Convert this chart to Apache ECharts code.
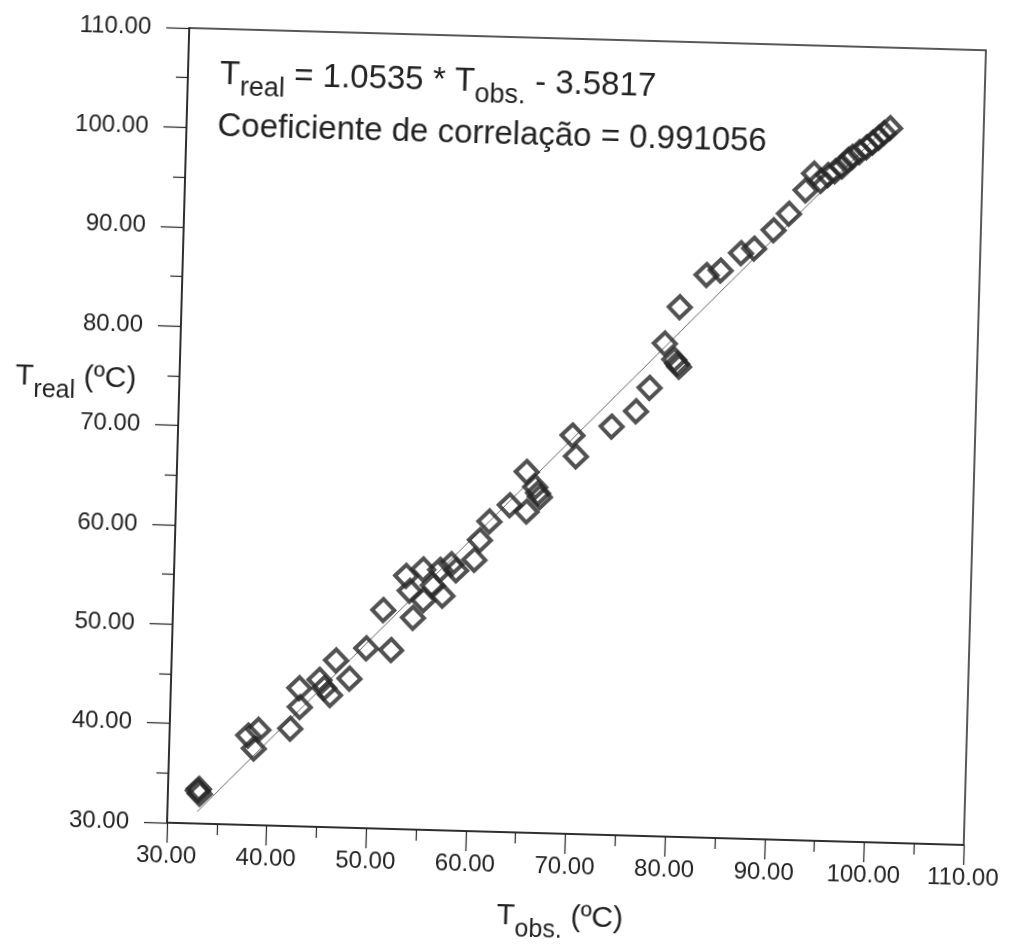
<!DOCTYPE html>
<html lang="pt">
<head>
<meta charset="utf-8">
<title>Treal x Tobs</title>
<script src="https://cdn.jsdelivr.net/npm/echarts@6.0.0/dist/echarts.min.js"></script>
<style>
  html, body {
    margin: 0;
    padding: 0;
    background: #ffffff;
    overflow: hidden;
  }
  /* the scanned figure sits slightly tilted on the page */
  .scatter-chart {
    position: absolute;
    left: 0;
    top: 0;
    width: 1060px;
    height: 990px;
    transform: rotate(1.6deg);
    transform-origin: 577px 436px;
  }
</style>
</head>
<body>
<div id="chart" class="scatter-chart"></div>
<script>
const tObs = [
  33.0, 33.2, 33.1, 37.9, 38.9, 38.5, 42.1, 43.0, 42.9, 44.9,
  45.4, 46.0, 47.9, 46.5, 49.5, 52.0, 51.1, 54.1, 53.3, 55.0,
  53.7, 56.0, 57.0, 55.1, 56.7, 57.8, 58.3, 60.1, 60.6, 61.5,
  63.5, 65.2, 65.1, 66.0, 66.3, 66.5, 69.6, 70.0, 73.5, 75.9,
  77.2, 78.6, 79.6, 79.9, 80.1, 80.0, 82.6, 84.0, 86.0, 87.3,
  89.2, 90.7, 92.3, 93.1, 93.8, 94.5, 95.2, 95.9, 96.5, 96.9,
  97.6, 98.3, 98.9, 99.5, 100.0, 100.6
];
const tReal = [
  33.3, 33.0, 33.5, 39.0, 39.6, 37.7, 39.8, 42.0, 43.9, 44.8,
  44.0, 43.3, 45.0, 46.8, 48.1, 48.0, 52.0, 51.3, 55.5, 56.2,
  54.0, 54.6, 53.6, 53.1, 56.2, 56.8, 56.2, 57.3, 59.3, 61.2,
  62.9, 62.3, 66.3, 64.8, 64.2, 63.8, 70.1, 68.0, 71.1, 72.7,
  75.1, 79.6, 78.0, 77.6, 77.3, 83.3, 86.6, 87.1, 88.9, 89.4,
  91.3, 93.0, 95.4, 97.1, 96.4, 97.0, 97.4, 97.9, 98.6, 98.9,
  99.4, 99.9, 100.4, 100.9, 101.4, 101.9
];
// end points of the fitted line as drawn
const fitObs = [33.0, 100.5];
const fitReal = [31.2, 102.3];

const axisMin = 30;
const axisMax = 110;
const axisStep = 10;

const FONT = '"Liberation Sans", Arial, sans-serif';
const INK = '#222222';

let chart = null;

function initChart() {
  const el = document.getElementById('chart');
  if (!el) {
    return;
  }
  chart = echarts.init(el, null, { renderer: 'canvas' });
  renderChart();
}

// rich-text styles for T with a lowered subscript
function richStyles(size, subSize, drop) {
  return {
    m: { fontSize: size, lineHeight: size, fontFamily: FONT, fill: INK, verticalAlign: 'top' },
    s: { fontSize: subSize, lineHeight: subSize, fontFamily: FONT, fill: INK, verticalAlign: 'top', padding: [drop, 0, 0, 0] }
  };
}

function renderChart() {
  const points = tObs.map((x, i) => [x, tReal[i]]);
  const fitLine = fitObs.map((x, i) => [x, fitReal[i]]);

  const valueAxis = (tickLen, minorLen, margin) => ({
    type: 'value',
    min: axisMin,
    max: axisMax,
    interval: axisStep,
    axisLine: { show: true, onZero: false, lineStyle: { color: INK, width: 1.5 } },
    axisTick: { show: true, inside: false, length: tickLen, lineStyle: { color: INK, width: 1.2 } },
    minorTick: { show: true, splitNumber: 2, length: minorLen, lineStyle: { color: INK, width: 1.2 } },
    splitLine: { show: false },
    minorSplitLine: { show: false },
    axisLabel: {
      margin: margin,
      color: INK,
      fontSize: 24,
      fontFamily: FONT,
      formatter: (v) => v.toFixed(2)
    }
  });

  chart.setOption({
    animation: false,
    backgroundColor: '#ffffff',
    grid: {
      left: 178,
      top: 39,
      width: 797,
      height: 795,
      show: true,
      borderColor: INK,
      borderWidth: 1.5,
      backgroundColor: 'transparent'
    },
    xAxis: valueAxis(20, 11, 21),
    yAxis: valueAxis(23, 12, 38),
    graphic: [
      {
        type: 'text',
        x: 210,
        y: 68,
        style: {
          text: '{m|T}{s|real}{m| = 1.0535 * T}{s|obs.}{m| - 3.5817}',
          rich: richStyles(33, 27, 16),
          textVerticalAlign: 'top'
        }
      },
      {
        type: 'text',
        x: 209,
        y: 120,
        style: {
          text: 'Coeficiente de correlação = 0.991056',
          fontSize: 33,
          fontFamily: FONT,
          fill: INK,
          textVerticalAlign: 'top'
        }
      },
      {
        type: 'text',
        x: 14,
        y: 377,
        style: {
          text: '{m|T}{s|real}{m| (ºC)}',
          rich: richStyles(30, 25, 16),
          textVerticalAlign: 'top'
        }
      },
      {
        type: 'text',
        x: 510,
        y: 903,
        style: {
          text: '{m|T}{s|obs.}{m| (ºC)}',
          rich: richStyles(30, 25, 16),
          textVerticalAlign: 'top'
        }
      }
    ],
    series: [
      {
        name: 'ajuste',
        type: 'line',
        data: fitLine,
        symbol: 'none',
        silent: true,
        z: 1,
        lineStyle: { color: '#6a6a6a', width: 1 }
      },
      {
        name: 'pontos',
        type: 'scatter',
        data: points,
        symbol: 'diamond',
        symbolSize: 22,
        z: 2,
        itemStyle: {
          color: 'rgba(255,255,255,0)',
          borderColor: '#262626',
          borderWidth: 4
        }
      }
    ]
  }, { notMerge: true });
}

initChart();
</script>
</body>
</html>
